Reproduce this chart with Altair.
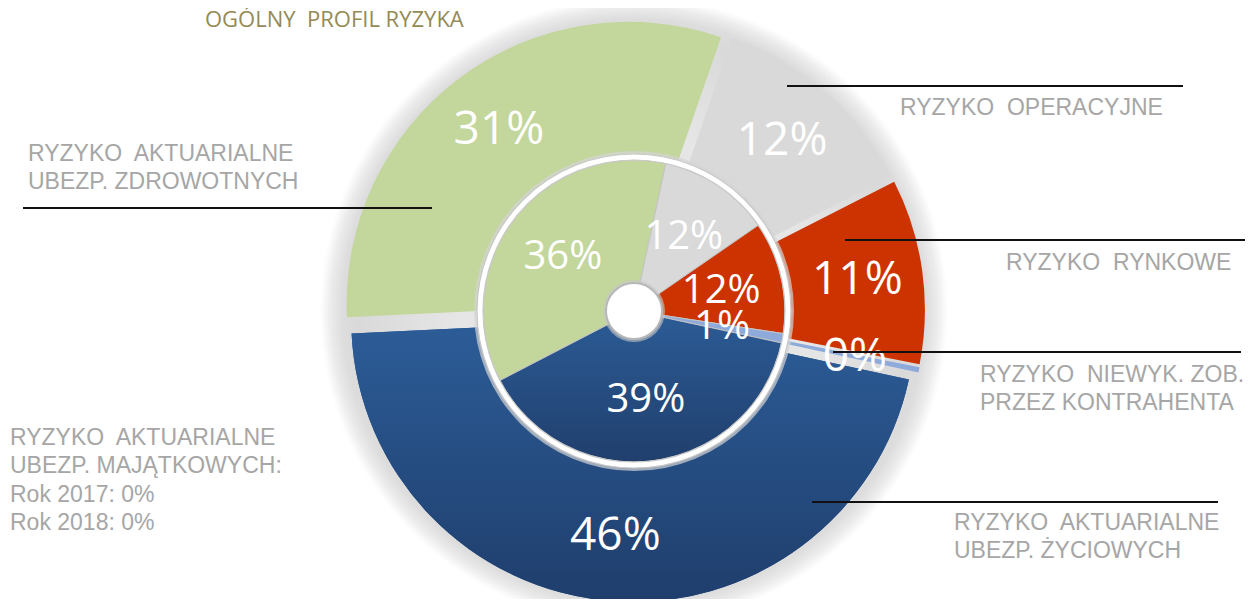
import math
import altair as alt
import pandas as pd

# ---------------- data ----------------
categories = [
    "RYZYKO AKTUARIALNE UBEZP. ŻYCIOWYCH",
    "RYZYKO AKTUARIALNE UBEZP. ZDROWOTNYCH",
    "RYZYKO OPERACYJNE",
    "RYZYKO RYNKOWE",
    "RYZYKO NIEWYK. ZOB. PRZEZ KONTRAHENTA",
]
outer_values = [45.9, 31.1, 12.2, 10.6, 0.3]   # outer ring (%)
inner_values = [39.0, 36.0, 12.0, 12.0, 1.0]   # inner ring (%)

S2 = "\u00a0 "  # wide word gap as in the original text boxes
title_text = "OGÓLNY" + S2 + "PROFIL RYZYKA"
label_blocks = [
    ["RYZYKO" + S2 + "AKTUARIALNE", "UBEZP. ZDROWOTNYCH"],
    ["RYZYKO" + S2 + "OPERACYJNE"],
    ["RYZYKO" + S2 + "RYNKOWE"],
    ["RYZYKO" + S2 + "NIEWYK. ZOB.", "PRZEZ KONTRAHENTA"],
    ["RYZYKO" + S2 + "AKTUARIALNE", "UBEZP. ŻYCIOWYCH"],
    ["RYZYKO" + S2 + "AKTUARIALNE", "UBEZP. MAJĄTKOWYCH:", "Rok 2017: 0%", "Rok 2018: 0%"],
]

# ---------------- layout / style ----------------
M = 8                      # page margin
W, H = 1237, 591
CX, CY = 634, 311          # donut centre (page px)
START = math.radians(102.2)
EXPLODE = 9
R_OUT, R_OUT_IN = 282, 140
R_IN, R_IN_IN = 151, 28
colors = ["#2a5a94", "#c3d69b", "#d9d9d9", "#cc3300", "#8eaadb"]
block_pos = [(28, 154), (900, 108), (1006, 263), (980, 375), (954, 523), (10, 438)]
line_gap = 28.3
leader_lines = [(23, 432, 208), (787, 1183, 86), (845, 1253, 240), (833, 1241, 352), (812, 1218, 502)]
title_pos = (205, 20)

rows = []
for i, c in enumerate(categories):
    rows.append({"ring": "outer", "category": c, "order": i, "value": outer_values[i]})
    rows.append({"ring": "inner", "category": c, "order": i, "value": inner_values[i]})
df = pd.DataFrame(rows)

lab_rows = []
for block, (bx, by) in zip(label_blocks, block_pos):
    for j, t in enumerate(block):
        lab_rows.append({"text": t, "x": bx - M, "y": by - M + j * line_gap})
df_labels = pd.DataFrame(lab_rows)
df_lines = pd.DataFrame([{"x": a - M, "x2": b - M, "y": y - M} for a, b, y in leader_lines])


def ring_base(ring, r_label, explode):
    return (
        alt.Chart(df)
        .transform_filter(alt.datum.ring == ring)
        .transform_joinaggregate(total="sum(value)")
        .transform_window(cum="sum(value)", sort=[alt.SortField("order")], frame=[None, 0])
        .transform_calculate(
            a0=f"{START} + 2*PI*(datum.cum - datum.value)/datum.total",
            a1=f"{START} + 2*PI*datum.cum/datum.total",
            mid="(datum.a0 + datum.a1)/2",
            px=f"{CX - M} + {explode}*sin(datum.mid)",
            py=f"{CY - M} - {explode}*cos(datum.mid)",
            lx=f"{CX - M} + {explode + r_label}*sin(datum.mid)",
            ly=f"{CY - M} - {explode + r_label}*cos(datum.mid)",
            pct="format(datum.value/datum.total, '.0%')",
        )
    )


arc_enc = dict(
    x=alt.X("px:Q", scale=None, axis=None),
    y=alt.Y("py:Q", scale=None, axis=None),
    theta=alt.Theta("a0:Q", scale=None, stack=None),
    theta2=alt.Theta2("a1:Q"),
)
color_enc = alt.Color("category:N", scale=alt.Scale(domain=categories, range=colors), legend=None)
lab_enc = dict(
    x=alt.X("lx:Q", scale=None, axis=None),
    y=alt.Y("ly:Q", scale=None, axis=None),
    text=alt.Text("pct:N"),
)

one = pd.DataFrame({"k": [0]})


def full_circle(r_in, r_out, **kw):
    return alt.Chart(one).mark_arc(innerRadius=r_in, outerRadius=r_out, **kw).encode(
        x=alt.value(CX - M), y=alt.value(CY - M),
        theta=alt.value(0), theta2=alt.value(2 * math.pi),
    )


halo = full_circle(
    0, 314,
    fill=alt.Gradient(
        gradient="radial", x1=0.5, y1=0.5, x2=0.5, y2=0.5, r1=0, r2=0.5,
        stops=[
            alt.GradientStop(offset=0, color="#e2e2e2"),
            alt.GradientStop(offset=0.55, color="#e6e6e6"),
            alt.GradientStop(offset=0.88, color="#d9d9d9"),
            alt.GradientStop(offset=0.93, color="#dddddd"),
            alt.GradientStop(offset=0.965, color="#ebebeb"),
            alt.GradientStop(offset=0.99, color="#fafafa"),
            alt.GradientStop(offset=1, color="#ffffff"),
        ],
    ),
)

outer = ring_base("outer", (R_OUT + R_IN) / 2, EXPLODE)
outer_arcs = outer.mark_arc(innerRadius=R_OUT_IN, outerRadius=R_OUT).encode(color=color_enc, **arc_enc)
outer_blue = outer.transform_filter(alt.datum.category == categories[0]).mark_arc(
    innerRadius=R_OUT_IN, outerRadius=R_OUT,
    fill=alt.Gradient(gradient="linear", x1=0, y1=0, x2=0, y2=1, stops=[
        alt.GradientStop(offset=0, color="#2c5c97"),
        alt.GradientStop(offset=1, color="#1f3e6c"),
    ]),
).encode(**arc_enc)

inner = ring_base("inner", (R_IN + R_IN_IN) / 2, 0)
inner_arcs = inner.mark_arc(innerRadius=R_IN_IN, outerRadius=R_IN, stroke="#c4c4c4", strokeWidth=1).encode(
    color=color_enc, **arc_enc)
inner_blue = inner.transform_filter(alt.datum.category == categories[0]).mark_arc(
    innerRadius=R_IN_IN, outerRadius=R_IN, stroke="#c4c4c4", strokeWidth=1,
    fill=alt.Gradient(gradient="linear", x1=0, y1=0, x2=0, y2=1, stops=[
        alt.GradientStop(offset=0, color="#2c5b95"),
        alt.GradientStop(offset=1, color="#203f6d"),
    ]),
).encode(**arc_enc)

bevel_shadow = full_circle(R_IN + 5, R_IN + 9, fill="#d4d4d4", opacity=0.7)
bevel = full_circle(R_IN, R_IN + 6, fill="#ffffff", stroke="#c8c8c8", strokeWidth=1.2)
hub_shadow = full_circle(0, R_IN_IN + 3, fill="#c8c8c8", opacity=0.6)
hub = full_circle(0, R_IN_IN, fill="#ffffff", stroke="#b8b8b8", strokeWidth=2)

outer_text = outer.mark_text(font="Open Sans", fontSize=46, color="white", align="center",
                             baseline="middle").encode(**lab_enc)
inner_text = inner.mark_text(font="Open Sans", fontSize=40, color="white", align="center",
                             baseline="middle").encode(**lab_enc)

rules = alt.Chart(df_lines).mark_rule(color="#111111", strokeWidth=2).encode(
    x=alt.X("x:Q", scale=None, axis=None), x2="x2:Q", y=alt.Y("y:Q", scale=None, axis=None))

cat_text = alt.Chart(df_labels).mark_text(
    font="Liberation Sans", fontSize=23, color="#a6a6a6", align="left", baseline="middle"
).encode(x=alt.X("x:Q", scale=None, axis=None), y=alt.Y("y:Q", scale=None, axis=None), text="text:N")

title = alt.Chart(one).mark_text(
    font="Open Sans", fontSize=22, color="#948a54", align="left", baseline="middle", text=title_text
).encode(x=alt.value(title_pos[0] - M), y=alt.value(title_pos[1] - M))

chart = alt.layer(
    halo, outer_arcs, outer_blue, bevel_shadow, inner_arcs, inner_blue, bevel, hub_shadow, hub,
    outer_text, inner_text, rules, cat_text, title,
).properties(
    width=W, height=H, padding=0, autosize="none", background="white"
).configure_view(stroke=None)

chart.save("out.html", embed_options={"renderer": "svg", "actions": False})
